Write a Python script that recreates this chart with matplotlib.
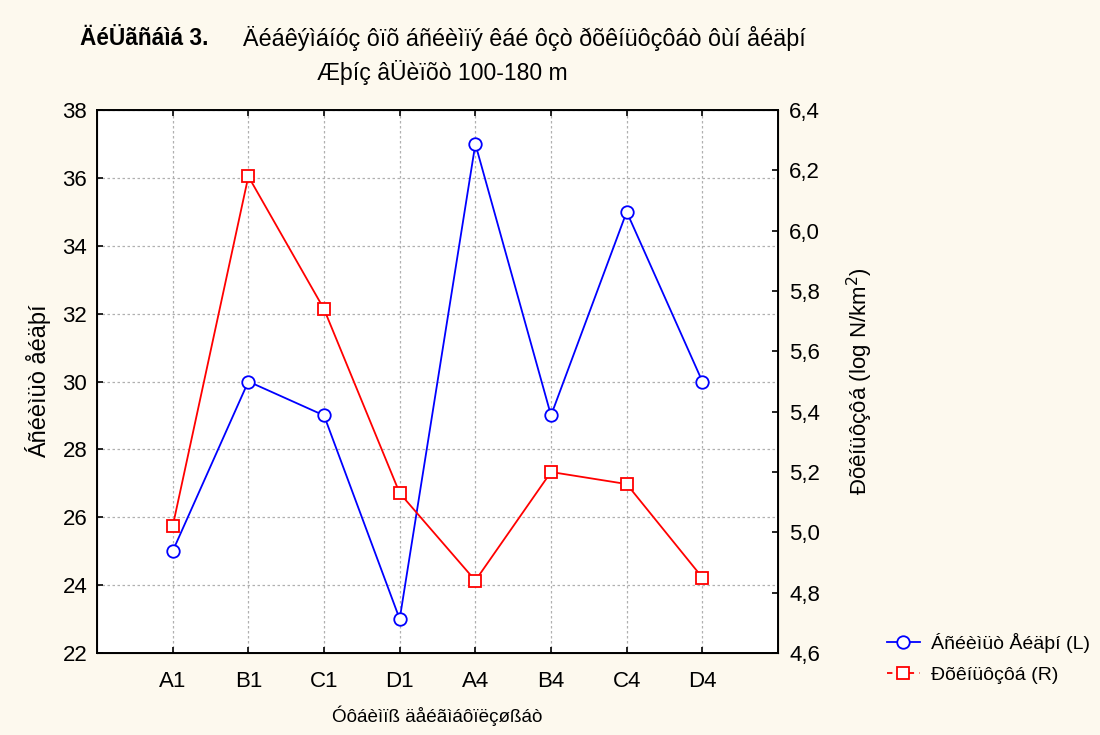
import matplotlib.pyplot as plt
from matplotlib.ticker import FuncFormatter

plt.rcParams['font.family'] = ['Liberation Sans', 'DejaVu Sans']

# sampling stations and the two measured series
stations = ['A1', 'B1', 'C1', 'D1', 'A4', 'B4', 'C4', 'D4']
species_count = [25, 30, 29, 23, 37, 29, 35, 30]
density_log = [5.02, 6.18, 5.74, 5.13, 4.84, 5.20, 5.16, 4.85]

left_ticks = [22, 24, 26, 28, 30, 32, 34, 36, 38]
right_ticks = [4.6, 4.8, 5.0, 5.2, 5.4, 5.6, 5.8, 6.0, 6.2, 6.4]

BG = '#fdf9ee'
TICK_FS = 16

fig = plt.figure(figsize=(11, 7.35), dpi=100, facecolor=BG)
ax1 = fig.add_axes([0.0882, 0.1116, 0.6191, 0.7387])
ax1.set_facecolor('white')

x = list(range(len(stations)))
l1, = ax1.plot(x, species_count, '-o', color='blue', lw=1.3, ms=9,
               mfc='white', mec='blue', mew=1.3, zorder=3)
ax1.set_xlim(-1, len(stations))
ax1.set_ylim(22, 38)
ax1.set_yticks(left_ticks)
ax1.set_xticks(x)
ax1.set_xticklabels(stations)
ax1.grid(True, color='#b0b0b0', ls=(0, (2, 2)), lw=0.9)
ax1.tick_params(direction='in', length=4, width=1.2, labelsize=TICK_FS,
                top=True, pad=7)
ax1.tick_params(axis='x', pad=13)
for s in ax1.spines.values():
    s.set_linewidth(1.4)

ax2 = ax1.twinx()
l2, = ax2.plot(x, density_log, '-s', color='red', lw=1.3, ms=9,
               mfc='white', mec='red', mew=1.3, zorder=3)
ax2.set_ylim(4.6, 6.4)
ax2.set_yticks(right_ticks)
ax2.yaxis.set_major_formatter(FuncFormatter(lambda v, p: f'{v:.1f}'.replace('.', ',')))
ax2.tick_params(direction='in', length=4, width=1.2, labelsize=TICK_FS, pad=8)

ax1.set_ylabel('Áñéèìüò åéäþí', fontsize=17, labelpad=8)
ax2.set_ylabel('Ðõêíüôçôá (log N/km$^2$)', fontsize=16, labelpad=18, rotation=90)
ax1.set_xlabel('Óôáèìïß äåéãìáôïëçøßáò', fontsize=13.6, labelpad=10)

fig.text(0.073, 0.948, 'ÄéÜãñáìá 3.', fontsize=16.3, fontweight='bold',
         ha='left', va='center')
fig.text(0.221, 0.948, 'Äéáêýìáíóç ôïõ áñéèìïý êáé ôçò ðõêíüôçôáò ôùí åéäþí',
         fontsize=16.8, ha='left', va='center')
fig.text(0.402, 0.902, 'Æþíç âÜèïõò 100-180 m', fontsize=16.6,
         ha='center', va='center')

# dashed handle for the density series in the legend only
l2.set_dashes([3, 3])
leg = fig.legend([l1, l2], ['Áñéèìüò Åéäþí (L)', 'Ðõêíüôçôá (R)'],
                 loc='center left', bbox_to_anchor=(0.790, 0.104),
                 frameon=False, fontsize=14, handlelength=1.7,
                 handletextpad=0.6, labelspacing=0.7)
l2.set_linestyle('-')

fig.savefig('out.png', dpi=100, facecolor=BG)
